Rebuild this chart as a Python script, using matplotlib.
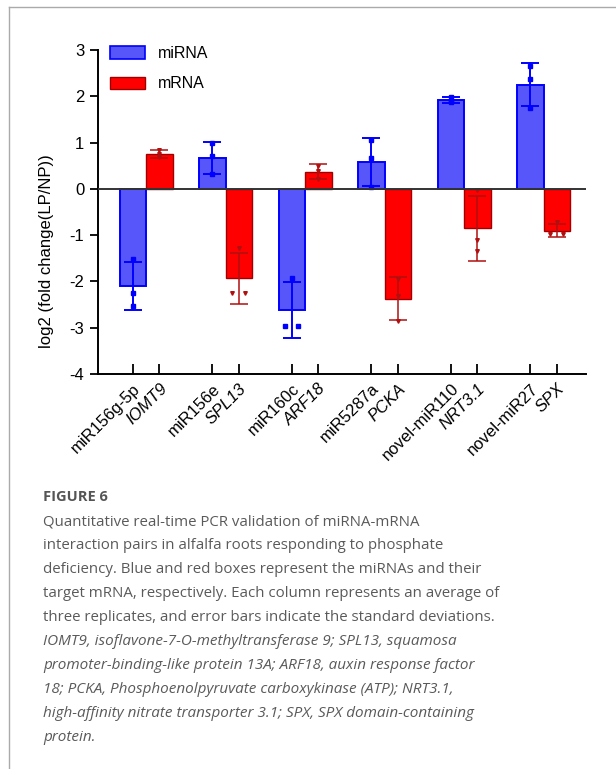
import numpy as np
import matplotlib
matplotlib.use("Agg")
import matplotlib.pyplot as plt
from matplotlib.lines import Line2D
from matplotlib.patches import Patch

plt.rcParams['font.family'] = ['Liberation Sans', 'DejaVu Sans']

# donnees
mirna_names = ['miR156g-5p', 'miR156e', 'miR160c', 'miR5287a', 'novel-miR110', 'novel-miR27']
mrna_names = ['IOMT9', 'SPL13', 'ARF18', 'PCKA', 'NRT3.1', 'SPX']

mirna_mean = [-2.10, 0.67, -2.62, 0.58, 1.92, 2.25]
mirna_sd = [0.52, 0.34, 0.60, 0.51, 0.07, 0.47]
mrna_mean = [0.75, -1.93, 0.37, -2.37, -0.85, -0.90]
mrna_sd = [0.085, 0.55, 0.16, 0.47, 0.70, 0.145]

mirna_reps = [[-1.52, -2.25, -2.53], [1.00, 0.71, 0.33], [-1.92, -2.97, -2.97],
              [1.05, 0.66, 0.04], [1.98, 1.90, 1.88], [2.66, 2.37, 1.74]]
mrna_reps = [[0.83, 0.75, 0.68], [-1.28, -2.24, -2.24], [0.50, 0.38, 0.22],
             [-1.95, -2.31, -2.85], [-0.03, -1.10, -1.35], [-0.72, -0.97, -0.97]]

yticks = [-4, -3, -2, -1, 0, 1, 2, 3]

caption_title = "FIGURE 6"
caption_lines = [
    "Quantitative real-time PCR validation of miRNA-mRNA",
    "interaction pairs in alfalfa roots responding to phosphate",
    "deficiency. Blue and red boxes represent the miRNAs and their",
    "target mRNA, respectively. Each column represents an average of",
    "three replicates, and error bars indicate the standard deviations.",
]
caption_italic = [
    "IOMT9, isoflavone-7-O-methyltransferase 9; SPL13, squamosa",
    "promoter-binding-like protein 13A; ARF18, auxin response factor",
    "18; PCKA, Phosphoenolpyruvate carboxykinase (ATP); NRT3.1,",
    "high-affinity nitrate transporter 3.1; SPX, SPX domain-containing",
    "protein.",
]

BLUE_FILL = '#5656FA'
BLUE_EDGE = '#0000FF'
RED_FILL = '#FF0000'
RED_EDGE = '#A00000'


def spread(vals, w=0.24):
    """decale horizontalement les points de meme valeur"""
    offs = np.zeros(len(vals))
    for v in set(vals):
        idx = [k for k, u in enumerate(vals) if u == v]
        if len(idx) > 1:
            offs[idx] = np.linspace(-w, w, len(idx))
    return offs


W, H = 616, 769
fig = plt.figure(figsize=(W / 100, H / 100), dpi=100)

# cadre gris (gauche + haut)
fig.add_artist(Line2D([9 / W, 9 / W], [0, 1 - 7 / H], color='#aaaaaa', lw=1))
fig.add_artist(Line2D([9 / W, 1], [1 - 7 / H, 1 - 7 / H], color='#aaaaaa', lw=1))

ax = fig.add_axes([98.3 / W, 1 - 374 / H, (586 - 98.3) / W, (374 - 50) / H])

n = len(mirna_names)
x_mi = np.arange(n) * 3
x_m = x_mi + 1

ax.bar(x_mi, mirna_mean, width=1, color=BLUE_FILL, edgecolor=BLUE_EDGE, lw=1.4, zorder=2)
ax.bar(x_m, mrna_mean, width=1, color=RED_FILL, edgecolor=RED_EDGE, lw=1.0, zorder=2)

ax.errorbar(x_mi, mirna_mean, yerr=mirna_sd, fmt='none', ecolor=BLUE_EDGE,
            elinewidth=1.4, capsize=6.5, capthick=1.4, zorder=3)
ax.errorbar(x_m, mrna_mean, yerr=mrna_sd, fmt='none', ecolor='#B01010',
            elinewidth=1.1, capsize=6.5, capthick=1.1, zorder=3)

for i in range(n):
    ax.plot(x_mi[i] + spread(mirna_reps[i]), mirna_reps[i], 's', ms=3,
            color=BLUE_EDGE, zorder=4)
    ax.plot(x_m[i] + spread(mrna_reps[i]), mrna_reps[i], 'v', ms=2.6,
            color='#B01010', zorder=4)

ax.axhline(0, color='#333333', lw=1.4, zorder=5)

ax.set_xlim(-1.3, 17.1)
ax.set_ylim(-4, 3)
ax.set_yticks(yticks)
ax.set_yticklabels([str(t) for t in yticks], fontsize=12)

pos = np.ravel(np.column_stack([x_mi, x_m]))
labels = [lab for pair in zip(mirna_names, mrna_names) for lab in pair]
ax.set_xticks(pos)
ax.set_xticklabels(labels, rotation=45, ha='right', rotation_mode='anchor', fontsize=12)
for k, t in enumerate(ax.get_xticklabels()):
    if k % 2 == 1:
        t.set_fontstyle('italic')

ax.tick_params(axis='y', direction='out', length=6, width=1.3, pad=4)
ax.tick_params(axis='x', direction='in', length=7, width=1.3, pad=5)

for s in ['top', 'right']:
    ax.spines[s].set_visible(False)
for s in ['left', 'bottom']:
    ax.spines[s].set_linewidth(1.4)

ax.set_ylabel('log2 (fold change(LP/NP))', fontsize=12)
ax.yaxis.set_label_coords(-0.091, 0.378)

handles = [Patch(facecolor=BLUE_FILL, edgecolor=BLUE_EDGE, lw=1.2),
           Patch(facecolor=RED_FILL, edgecolor=RED_EDGE, lw=1.0)]
ax.legend(handles, ['miRNA', 'mRNA'], loc='upper left', bbox_to_anchor=(0.024, 1.012),
          frameon=False, fontsize=11.5, handlelength=2.2, handleheight=0.8,
          handletextpad=0.8, labelspacing=0.95, borderpad=0, borderaxespad=0)

# legende de la figure
fx = 43 / W
cap_font = ['Open Sans', 'DejaVu Sans']
fig.text(fx, 1 - 501 / H, caption_title, fontsize=10.5, fontweight='bold',
         color='#555555', family=cap_font, va='baseline')
y0 = 525.5
step = 23.9
for k, line in enumerate(caption_lines + caption_italic):
    italic = k >= len(caption_lines)
    fig.text(fx, 1 - (y0 + k * step) / H, line, fontsize=11 if italic else 10.8,
             color='#5a5a5a', family=cap_font, style='italic' if italic else 'normal',
             va='baseline')

fig.savefig('out.png', dpi=100)
